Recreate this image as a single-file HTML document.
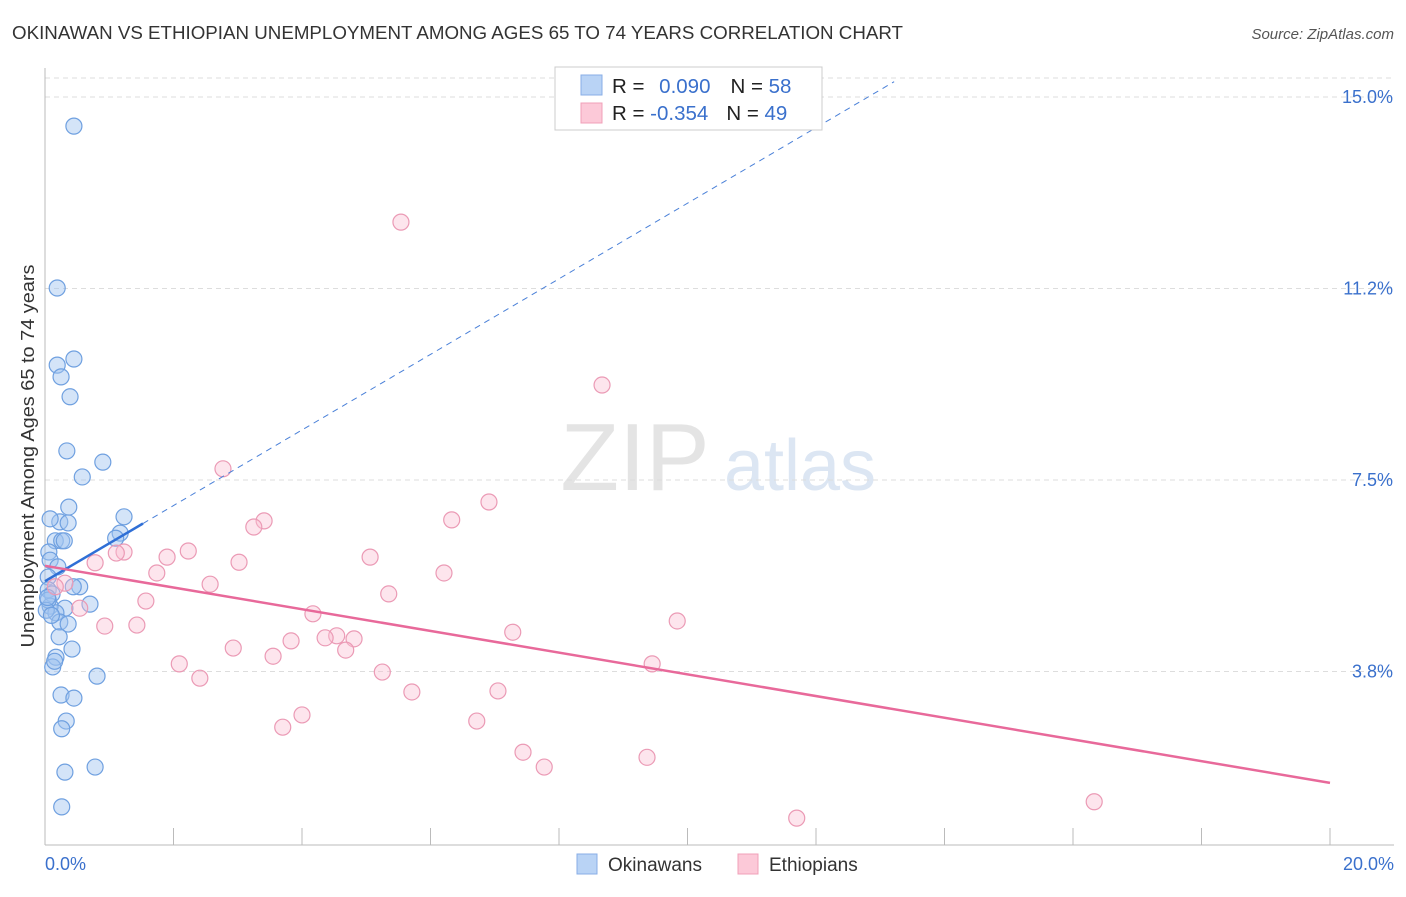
<!DOCTYPE html>
<html><head><meta charset="utf-8"><style>
body{margin:0;background:#fff;font-family:"Liberation Sans",sans-serif}
svg text{font-family:"Liberation Sans",sans-serif}
</style></head><body>
<svg id="c" width="1406" height="892">
<text x="12" y="39" font-size="18" fill="#333" textLength="891" lengthAdjust="spacingAndGlyphs">OKINAWAN VS ETHIOPIAN UNEMPLOYMENT AMONG AGES 65 TO 74 YEARS CORRELATION CHART</text>
<text x="1394" y="39" font-size="15" fill="#555" text-anchor="end" font-style="italic">Source: ZipAtlas.com</text>
<text x="34" y="456" font-size="18.5" fill="#333" text-anchor="middle" textLength="383" lengthAdjust="spacingAndGlyphs" transform="rotate(-90 34 456)">Unemployment Among Ages 65 to 74 years</text>
<g><text x="635" y="490" font-size="96" fill="#e4e4e4" text-anchor="middle" font-family="Liberation Serif,serif">ZIP</text><text x="800" y="490" font-size="72" fill="#dce6f3" text-anchor="middle">atlas</text></g>
<g id="grid"></g><g id="marks"></g>
<g>
<rect x="555" y="67" width="267" height="63" fill="#fff" stroke="#ccc"/>
<rect x="581" y="75" width="21" height="20" fill="#b9d3f5" stroke="#88aee6"/>
<rect x="581" y="103" width="21" height="20" fill="#fcc9d8" stroke="#f0a0b8"/>
<text x="612" y="93" font-size="20.5" fill="#222">R = <tspan fill="#3a70cc" dx="9">0.090</tspan><tspan fill="#222" dx="20">N = </tspan><tspan fill="#3a70cc">58</tspan></text>
<text x="612" y="120" font-size="20.5" fill="#222">R = <tspan fill="#3a70cc">-0.354</tspan><tspan fill="#222" dx="18">N = </tspan><tspan fill="#3a70cc">49</tspan></text>
</g>
<g>
<rect x="577" y="854" width="20" height="20" fill="#b9d3f5" stroke="#88aee6"/><text x="608" y="871" font-size="19" fill="#333">Okinawans</text>
<rect x="738" y="854" width="20" height="20" fill="#fcc9d8" stroke="#f0a0b8"/><text x="769" y="871" font-size="19" fill="#333">Ethiopians</text>
</g>
</svg>
<script>
const yTicks=[3.75,7.5,11.25,15];
const yTickLabels=["3.8%","7.5%","11.2%","15.0%"];
const xTicks=[0,2,4,6,8,10,12,14,16,18,20];
const blueX=[.45,.19,.19,.45,.25,.39,.34,.9,.58,.37,1.23,.23,.36,.08,1.17,1.1,.16,.26,.3,.06,.08,.2,.05,.54,.44,.05,.11,.7,.31,.08,.17,.23,.36,.22,.42,.17,.12,.81,.25,.45,.33,.26,.78,.31,.26,.05,.02,.1,.15,.04];
const blueY=[14.43,11.26,9.75,9.87,9.52,9.13,8.07,7.85,7.56,6.97,6.78,6.68,6.66,6.74,6.46,6.36,6.31,6.31,6.31,6.09,5.93,5.8,5.6,5.41,5.41,5.35,5.27,5.07,4.99,5.03,4.9,4.72,4.68,4.43,4.19,4.03,3.84,3.66,3.29,3.23,2.78,2.63,1.88,1.78,1.1,5.15,4.95,4.85,3.95,5.2];
const pinkX=[5.54,8.67,2.77,6.91,6.33,3.41,3.25,1.23,1.11,2.23,1.9,5.06,3.02,.78,1.74,6.21,2.57,.31,.16,5.35,1.57,.54,4.17,9.84,.93,1.43,7.28,4.54,4.36,4.81,3.83,2.93,4.68,3.55,2.09,9.45,2.41,5.25,7.05,5.71,4.0,6.72,3.7,7.44,7.77,9.37,16.33,11.7];
const pinkY=[12.55,9.36,7.72,7.07,6.72,6.70,6.58,6.09,6.07,6.11,5.99,5.99,5.89,5.88,5.68,5.68,5.46,5.48,5.41,5.27,5.13,4.99,4.88,4.74,4.64,4.66,4.52,4.45,4.41,4.39,4.35,4.21,4.17,4.05,3.9,3.9,3.62,3.74,3.37,3.35,2.9,2.78,2.66,2.17,1.88,2.07,1.2,.88];
const blueFit=[5.52,0.74], pinkFit=[5.82,-0.2125];
const X=v=>45+v*64.25, Y=v=>97+(15-v)*51.07;
const NS="http://www.w3.org/2000/svg";
function mk(p,t,a){const e=document.createElementNS(NS,t);for(const k in a)e.setAttribute(k,a[k]);p.appendChild(e);return e;}
const g=document.getElementById('grid'), m=document.getElementById('marks');
mk(g,'line',{x1:45,x2:1394,y1:78,y2:78,stroke:'#ddd','stroke-dasharray':'5,4'});
yTicks.forEach((t,i)=>{
 const l=mk(g,'line',{x1:45,x2:1394,y1:Y(t),y2:Y(t),stroke:'#ddd','stroke-dasharray':'5,4'});
 
 
 const tx=mk(g,'text',{x:1393,y:Y(t)+6,'font-size':18,fill:'#3a70cc','text-anchor':'end'});tx.textContent=yTickLabels[i];
 
 
});
mk(g,'line',{x1:45,x2:45,y1:68,y2:845,stroke:'#bbb'});
mk(g,'line',{x1:45,x2:1394,y1:845,y2:845,stroke:'#bbb'});
xTicks.forEach(t=>{const l=mk(g,'line',{x1:X(t),x2:X(t),y1:828,y2:845,stroke:'#bbb'});
 
 });
let a=mk(g,'text',{x:45,y:870,'font-size':18,fill:'#3a70cc'});a.textContent='0.0%';


a=mk(g,'text',{x:1394,y:870,'font-size':18,fill:'#3a70cc','text-anchor':'end'});a.textContent='20.0%';


blueX.forEach((v,i)=>{const c=mk(m,'circle',{cx:X(v),cy:Y(blueY[i]),r:8,fill:'rgba(160,196,240,0.45)',stroke:'#6fa0e0','stroke-width':1.2});
 
 });
pinkX.forEach((v,i)=>{const c=mk(m,'circle',{cx:X(v),cy:Y(pinkY[i]),r:8,fill:'rgba(250,190,210,0.4)',stroke:'#eb9ab5','stroke-width':1.2});
 
 });
const bx1=1.525,bx2=(15.3-blueFit[0])/blueFit[1];
let l=mk(m,'line',{x1:X(bx1),y1:Y(blueFit[0]+blueFit[1]*bx1),x2:X(bx2),y2:Y(blueFit[0]+blueFit[1]*bx2),stroke:'#4a80d8','stroke-width':1,'stroke-dasharray':'6,5'});


l=mk(m,'line',{x1:X(0),y1:Y(blueFit[0]),x2:X(bx1),y2:Y(blueFit[0]+blueFit[1]*bx1),stroke:'#2f6fd6','stroke-width':2.5});


l=mk(m,'line',{x1:X(0),y1:Y(pinkFit[0]),x2:X(20),y2:Y(pinkFit[0]+pinkFit[1]*20),stroke:'#e8699a','stroke-width':2.5});


</script>
</body></html>
